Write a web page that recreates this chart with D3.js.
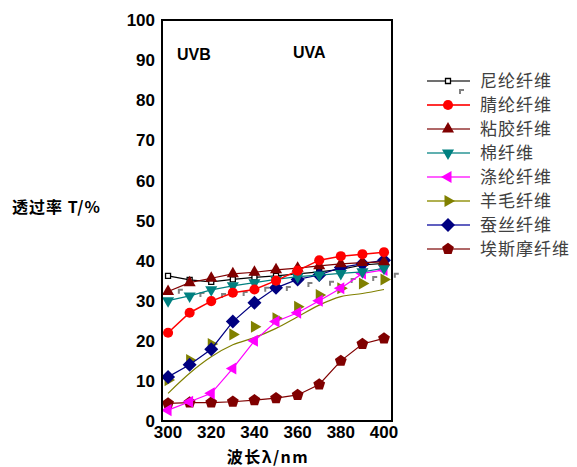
<!DOCTYPE html>
<html>
<head>
<meta charset="utf-8">
<script src="https://cdn.jsdelivr.net/npm/d3@7"></script>
<style>
  body { margin: 0; background: #fff; }
  svg { display: block; }
  .tick-label { font-family: Arial, "Liberation Sans", sans-serif; font-weight: bold; font-size: 17px; fill: #000; }
</style>
</head>
<body>
<script>
var width = 577,
    height = 467;

// wavelengths (nm)
var wavelengths = [300, 310, 320, 330, 340, 350, 360, 370, 380, 390, 400];

// transmittance T/% per fibre
var nylon     = [36.2, 35.2, 34.7, 35.3, 35.8, 36.2, 36.7, 37.2, 37.8, 38.9, 39.3];
var acrylic   = [22.0, 27.0, 29.9, 32.0, 32.8, 35.0, 37.5, 40.1, 41.1, 41.6, 42.1];
var viscose   = [32.3, 34.5, 35.6, 36.7, 37.1, 37.7, 38.1, 38.7, 39.2, 39.5, 39.7];
var cotton    = [30.0, 31.2, 32.7, 33.7, 34.5, 35.3, 36.0, 36.4, 36.8, 37.2, 38.1];
var polyester = [2.7, 4.8, 6.9, 13.1, 20.0, 24.8, 27.0, 30.0, 33.1, 36.8, 37.7];
var wool      = [10.2, 15.2, 19.2, 21.6, 23.5, 25.6, 28.5, 31.4, 33.1, 34.3, 35.3];
var woolFit   = [6.9, 11.9, 16.0, 19.0, 20.8, 23.1, 26.0, 28.9, 31.0, 31.8, 32.8];
var silk      = [11.0, 14.0, 17.9, 24.8, 29.5, 33.2, 35.3, 36.4, 38.3, 39.2, 40.1];
var esmo      = [4.4, 4.6, 4.6, 4.8, 5.2, 5.7, 6.5, 9.1, 15.0, 19.2, 20.6];

// stray grey nylon marker fragments (shifted by +5 nm)
var ghostWavelengths = [305, 315, 325, 335, 345, 355, 365, 375, 385, 395, 405];
var ghostValues      = [32.7, 31.9, 31.7, 32.2, 33.2, 33.4, 34.4, 34.7, 35.4, 35.9, 36.7];

var xTicks = [300, 320, 340, 360, 380, 400];
var yTicks = [0, 10, 20, 30, 40, 50, 60, 70, 80, 90, 100];

var names = ["尼纶纤维", "腈纶纤维", "粘胶纤维", "棉纤维", "涤纶纤维", "羊毛纤维", "蚕丝纤维", "埃斯摩纤维"];

var svg = d3.select("body").append("svg")
    .attr("width", width)
    .attr("height", height);

var x = d3.scaleLinear().domain([297.2, 403.7]).range([162, 392]);
var y = d3.scaleLinear().domain([0, 100]).range([421, 20]);

function polygon(n, r, rot) {
  var pts = [];
  for (var i = 0; i < n; i++) {
    var a = rot + i * 2 * Math.PI / n;
    pts.push([r * Math.cos(a), r * Math.sin(a)]);
  }
  return "M" + pts.map(function(p) { return p[0].toFixed(2) + "," + p[1].toFixed(2); }).join("L") + "Z";
}

var shapes = {
  square:  function() { return "M-2.5,-2.5H2.5V2.5H-2.5Z"; },
  circle:  function() { return d3.symbol(d3.symbolCircle, 80)(); },
  up:      function() { return polygon(3, 7, -Math.PI / 2); },
  down:    function() { return polygon(3, 7, Math.PI / 2); },
  left:    function() { return polygon(3, 7, Math.PI); },
  right:   function() { return polygon(3, 7, 0); },
  diamond: function() { return polygon(4, 7, 0); },
  pentagon:function() { return polygon(5, 6.2, -Math.PI / 2); }
};

var series = [
  { name: names[0], values: nylon,     color: "#000000", legendLine: "#707070", shape: "square",   fill: "#fff", lw: 1.2 },
  { name: names[1], values: acrylic,   color: "#ff0000", legendLine: "#ff3030", shape: "circle",   fill: "#ff0000", lw: 1.5 },
  { name: names[2], values: viscose,   color: "#800000", legendLine: "#b06868", shape: "up",       fill: "#800000", lw: 1.2 },
  { name: names[3], values: cotton,    color: "#008080", legendLine: "#60b0b0", shape: "down",     fill: "#008080", lw: 1.2 },
  { name: names[4], values: polyester, color: "#ff00ff", legendLine: "#ff60ff", shape: "left",     fill: "#ff00ff", lw: 1.2 },
  { name: names[5], values: wool,      color: "#808000", legendLine: "#b0b050", shape: "right",    fill: "#808000", lw: 1.2, line: woolFit },
  { name: names[6], values: silk,      color: "#000080", legendLine: "#6060c0", shape: "diamond",  fill: "#000080", lw: 1.2 },
  { name: names[7], values: esmo,      color: "#800000", legendLine: "#b06868", shape: "pentagon", fill: "#800000", lw: 1.2 }
];

var line = d3.line()
    .x(function(d) { return x(d[0]); })
    .y(function(d) { return y(d[1]); });

var smooth = d3.line()
    .curve(d3.curveMonotoneX)
    .x(function(d) { return x(d[0]); })
    .y(function(d) { return y(d[1]); });

// draw series, back to front
var order = [0, 7, 5, 4, 6, 3, 2, 1];
var plot = svg.append("g").attr("class", "plot");

order.forEach(function(i) {
  var s = series[i];
  var g = plot.append("g");
  var pts = wavelengths.map(function(w, k) { return [w, s.values[k]]; });
  if (s.line) {
    var lp = wavelengths.map(function(w, k) { return [w, s.line[k]]; });
    g.append("path").attr("d", smooth(lp))
      .attr("fill", "none").attr("stroke", s.color).attr("stroke-width", s.lw);
  } else {
    g.append("path").attr("d", line(pts))
      .attr("fill", "none").attr("stroke", s.color).attr("stroke-width", s.lw);
  }
  g.selectAll("path.mark")
    .data(pts)
    .enter().append("path")
      .attr("class", "mark")
      .attr("d", shapes[s.shape]())
      .attr("transform", function(d) { return "translate(" + x(d[0]) + "," + y(d[1]) + ")"; })
      .attr("fill", s.fill)
      .attr("stroke", s.shape == "square" ? "#000" : "none")
      .attr("stroke-width", 1.3);
  if (i == 0) {
    // grey fragments
    g.selectAll("path.ghost")
      .data(ghostWavelengths.map(function(w, k) { return [w, ghostValues[k]]; }))
      .enter().append("path")
        .attr("class", "ghost")
        .attr("d", "M0,4V0H4")
        .attr("transform", function(d) { return "translate(" + x(d[0]) + "," + y(d[1]) + ")"; })
        .attr("fill", "none")
        .attr("stroke", "#808080")
        .attr("stroke-width", 2);
  }
});

// frame
svg.append("rect")
    .attr("x", 162).attr("y", 20)
    .attr("width", 230).attr("height", 401)
    .attr("fill", "none").attr("stroke", "#000").attr("stroke-width", 2);

// tick labels (no tick marks in the original)
svg.selectAll("text.ylab")
  .data(yTicks)
  .enter().append("text")
    .attr("class", "tick-label")
    .attr("x", 155)
    .attr("y", function(d) { return y(d); })
    .attr("dy", "0.36em")
    .attr("text-anchor", "end")
    .text(function(d) { return d; });

svg.selectAll("text.xlab")
  .data(xTicks)
  .enter().append("text")
    .attr("class", "tick-label")
    .attr("x", function(d) { return x(d); })
    .attr("y", 438)
    .attr("text-anchor", "middle")
    .text(function(d) { return d; });

// region labels
svg.append("text").attr("class", "tick-label").attr("x", 177).attr("y", 60)
    .style("font-size", "16px").text("UVB");
svg.append("text").attr("class", "tick-label").attr("x", 293).attr("y", 58)
    .style("font-size", "16px").text("UVA");

// axis titles
svg.append("text")
    .attr("x", 12).attr("y", 213)
    .style("font-family", "'Noto Sans CJK SC', serif")
    .style("font-weight", "bold").style("font-size", "16px")
    .style("letter-spacing", "1px")
    .text("透过率 T/%");

svg.append("text")
    .attr("x", 268).attr("y", 463)
    .attr("text-anchor", "middle")
    .style("font-family", "'Noto Sans CJK SC', serif")
    .style("font-weight", "bold").style("font-size", "16px")
    .style("letter-spacing", "1.5px")
    .text("波长λ/nm");

// legend
var legend = svg.append("g").attr("class", "legend");
series.forEach(function(s, i) {
  var ly = 81 + i * 24;
  legend.append("line")
    .attr("x1", 427).attr("x2", 470).attr("y1", ly).attr("y2", ly)
    .attr("stroke", s.legendLine).attr("stroke-width", 2);
  legend.append("path")
    .attr("d", shapes[s.shape]())
    .attr("transform", "translate(448," + ly + ")")
    .attr("fill", s.fill)
    .attr("stroke", s.shape == "square" ? "#000" : "none")
    .attr("stroke-width", 1.3);
  legend.append("text")
    .attr("x", 480).attr("y", ly)
    .attr("dy", "0.36em")
    .style("font-family", "'Noto Sans CJK SC', serif")
    .style("font-size", "17px")
    .style("letter-spacing", "1px")
    .attr("fill", "#404040")
    .text(s.name);
});
legend.append("path")
  .attr("d", "M0,4V0H4")
  .attr("transform", "translate(460,90)")
  .attr("fill", "none").attr("stroke", "#808080").attr("stroke-width", 2);
</script>
</body>
</html>
